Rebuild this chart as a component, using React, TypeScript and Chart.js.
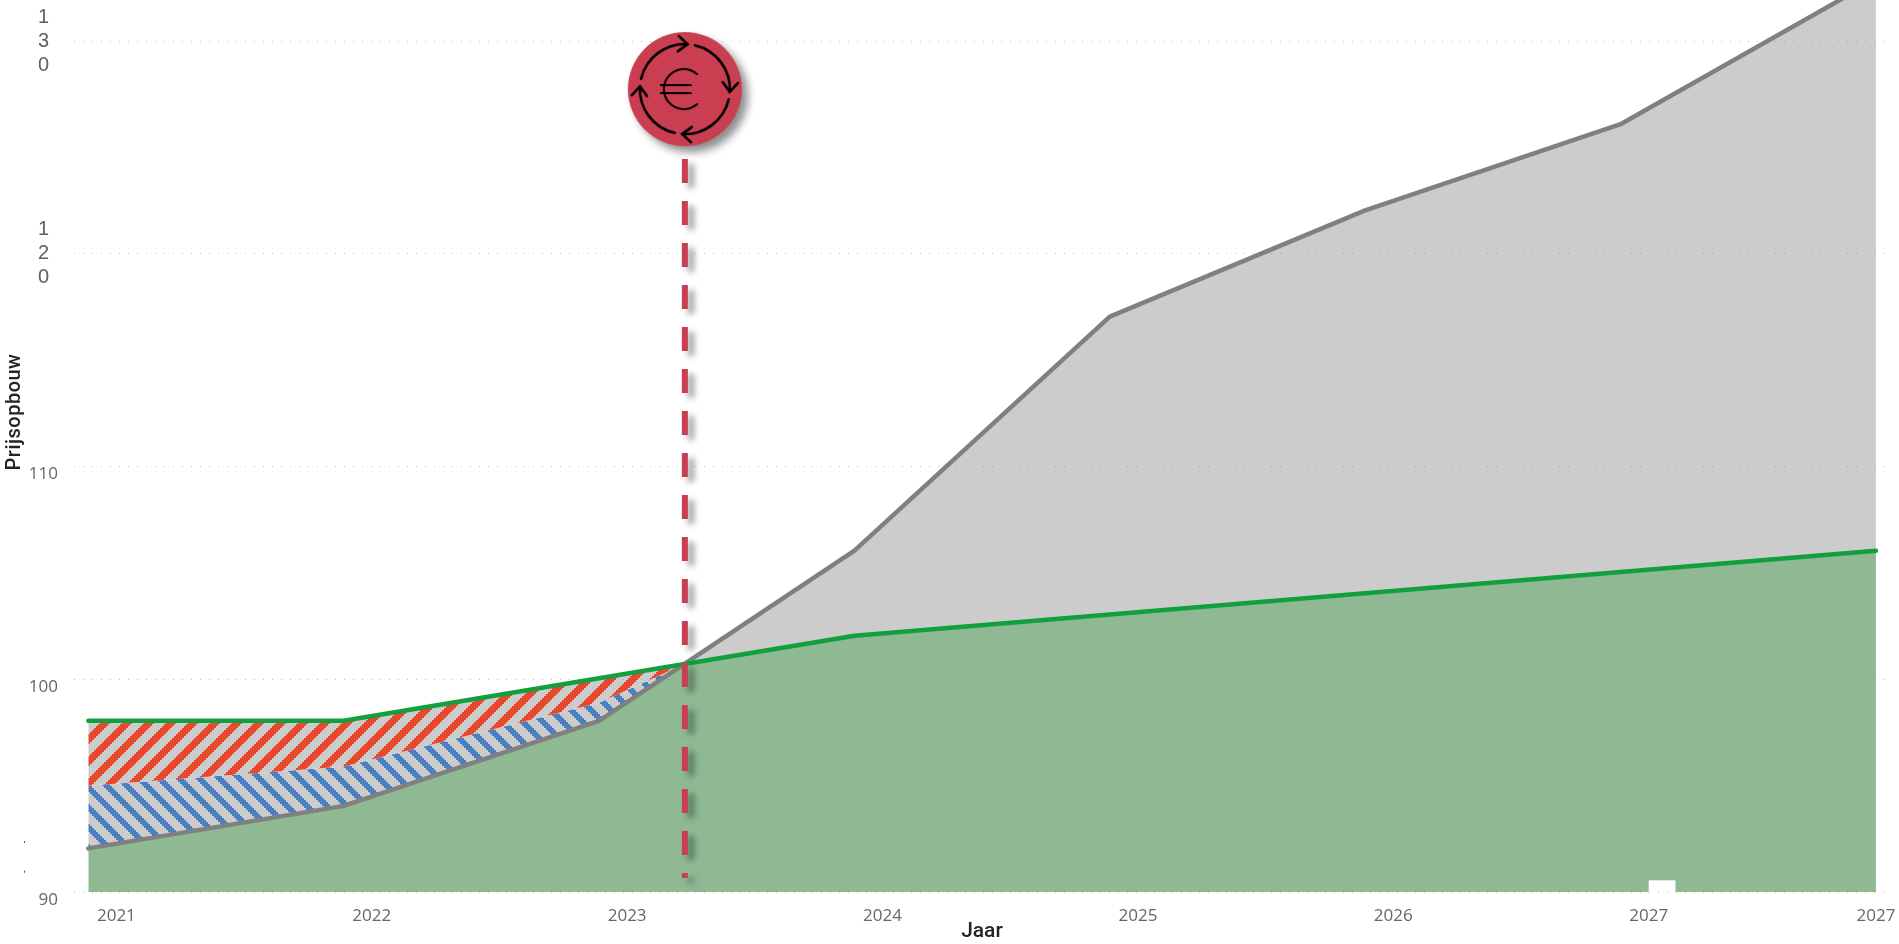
import React, { useEffect, useRef } from "react";
import { Chart, registerables } from "chart.js";

Chart.register(...registerables);

const years = [2020.89, 2021.89, 2022.89, 2023.89, 2024.89, 2025.89, 2026.89, 2027.89];
const greyValues = [92.05, 94.05, 98.05, 106.05, 117.05, 122.05, 126.1, 132.9];
const greenValues = [98.05, 98.05, 100.05, 102.05, 103.05, 104.05, 105.05, 106.05];

const crossYear = 2023.226;
const hatchYears = [2020.89, 2021.89, 2022.89, crossYear];
const hatchTop = [98.05, 98.05, 100.05, 100.72];
const hatchMid = [95.0, 95.9, 98.9, 100.72];
const hatchBottom = [92.05, 94.05, 98.05, 100.72];

const lowerYears = [2020.89, 2021.89, 2022.89, crossYear, 2023.89, 2024.89, 2025.89, 2026.89, 2027.89];
const lowerValues = [92.05, 94.05, 98.05, 100.72, 102.05, 103.05, 104.05, 105.05, 106.05];

const dashValues = [124.46, 90.66];
const badgeValue = 127.75;

const xTicks = [2021, 2022, 2023, 2024, 2025, 2026, 2027, 2027.89];
const yTicks = [90, 100, 110, 120, 130];
const yStackedTicks = [120, 130];
const yTitle = "Prijsopbouw";
const xTitle = "Jaar";

const notch = { x0: 2027.0, x1: 2027.105, y0: 90.55, y1: 90 };
const stray = [92.4, 91.0];

function pts(xs: number[], ys: number[]) {
  return xs.map((x, i) => ({ x, y: ys[i] }));
}

function makeHatch(colour: string, period: number, sign: number, phase: number, stripe: number) {
  const c = document.createElement("canvas");
  c.width = period;
  c.height = period;
  const g = c.getContext("2d")!;
  g.fillStyle = "#CCCCCC";
  g.fillRect(0, 0, period, period);
  g.fillStyle = colour;
  for (let x = 0; x < period; x += 2) {
    for (let y = 0; y < period; y += 2) {
      const v = (((x + sign * y + phase) % period) + period) % period;
      if (v < stripe) g.fillRect(x, y, 2, 2);
    }
  }
  return g.createPattern(c, "repeat")!;
}

function makeBadge() {
  const size = 150;
  const c = document.createElement("canvas");
  c.width = size;
  c.height = size;
  const g = c.getContext("2d")!;
  const m = size / 2;
  g.save();
  g.shadowColor = "rgba(0,0,0,0.45)";
  g.shadowBlur = 9;
  g.shadowOffsetX = 6;
  g.shadowOffsetY = 6;
  g.fillStyle = "#C93E50";
  g.beginPath();
  g.arc(m, m, 57, 0, Math.PI * 2);
  g.fill();
  g.restore();
  g.strokeStyle = "#000";
  g.lineWidth = 2.6;
  g.lineCap = "round";
  const R = 45;
  for (let k = 0; k < 4; k++) {
    const end = -Math.PI / 2 + k * (Math.PI / 2) + 0.06;
    const start = end - Math.PI / 2 + 0.17;
    g.beginPath();
    g.arc(m, m, R, start, end);
    g.stroke();
    const tx = m + R * Math.cos(end);
    const ty = m + R * Math.sin(end);
    const dir = end + Math.PI / 2;
    g.beginPath();
    g.moveTo(tx + 12 * Math.cos(dir + 2.45), ty + 12 * Math.sin(dir + 2.45));
    g.lineTo(tx, ty);
    g.lineTo(tx + 12 * Math.cos(dir - 2.45), ty + 12 * Math.sin(dir - 2.45));
    g.stroke();
  }
  g.lineWidth = 2;
  g.beginPath();
  g.arc(m - 1, m, 20, 0.85, Math.PI * 2 - 0.85);
  g.stroke();
  g.beginPath();
  g.moveTo(m - 24, m - 4);
  g.lineTo(m + 6, m - 4);
  g.moveTo(m - 24, m + 4);
  g.lineTo(m + 6, m + 4);
  g.stroke();
  return c;
}

function noPadding(scale: any) {
  scale.paddingLeft = 0;
  scale.paddingRight = 0;
  scale.paddingTop = 0;
  scale.paddingBottom = 0;
}

const overlayPlugin = {
  id: "overlay",
  beforeDatasetDraw(chart: any, args: any) {
    if (args.index === 1) {
      const ctx = chart.ctx;
      ctx.save();
      ctx.shadowColor = "rgba(0,0,0,0.4)";
      ctx.shadowBlur = 6;
      ctx.shadowOffsetX = 6;
      ctx.shadowOffsetY = 5;
    }
  },
  afterDatasetDraw(chart: any, args: any) {
    if (args.index === 1) chart.ctx.restore();
  },
  afterDatasetsDraw(chart: any) {
    const { ctx, scales } = chart;
    const sx = scales.x;
    const sy = scales.y;
    ctx.save();
    ctx.fillStyle = "#FFFFFF";
    const l = sx.getPixelForValue(notch.x0);
    const r = sx.getPixelForValue(notch.x1);
    const t = sy.getPixelForValue(notch.y0);
    const b = sy.getPixelForValue(notch.y1);
    ctx.fillRect(l, t, r - l, b - t + 1);
    ctx.restore();
  },
  afterDraw(chart: any) {
    const { ctx, scales } = chart;
    const sy = scales.y;
    ctx.save();
    ctx.fillStyle = "#555555";
    stray.forEach((v) => ctx.fillRect(24, sy.getPixelForValue(v), 1, 2));
    ctx.translate(15, 412);
    ctx.rotate(-Math.PI / 2);
    ctx.fillStyle = "#252423";
    ctx.font = "500 20px Roboto";
    ctx.letterSpacing = "0.5px";
    ctx.textAlign = "center";
    ctx.textBaseline = "middle";
    ctx.fillText(yTitle, 0, 0);
    ctx.restore();
  },
};

export default function App() {
  const ref = useRef<HTMLCanvasElement>(null);
  useEffect(() => {
    const red = makeHatch("#E8492E", 22, 1, 15, 10);
    const blue = makeHatch("#4A7FC1", 20, -1, 2, 8);
    const badge = makeBadge();
    const yMin = 90;
    const yMax = 131.94;
    const chart = new Chart(ref.current!, {
      type: "line",
      plugins: [overlayPlugin],
      data: {
        datasets: [
          {
            label: "Prijsmoment",
            data: [{ x: crossYear, y: badgeValue }],
            pointStyle: badge,
            pointRadius: 10,
            showLine: false,
          },
          {
            label: "Prijsherziening",
            data: dashValues.map((y) => ({ x: crossYear, y })),
            borderColor: "#C93E50",
            borderWidth: 6,
            borderDash: [24, 18],
            pointRadius: 0,
          },
          {
            label: "Groen",
            data: pts(years, greenValues),
            borderColor: "#12A03F",
            borderWidth: 4.5,
            borderCapStyle: "round",
            borderJoinStyle: "round",
            pointRadius: 0,
          },
          {
            label: "Grijs",
            data: pts(years, greyValues),
            borderColor: "#808080",
            borderWidth: 4.5,
            borderCapStyle: "round",
            borderJoinStyle: "round",
            pointRadius: 0,
            fill: { target: 2, above: "#CCCCCC", below: "rgba(0,0,0,0)" },
          },
          {
            label: "Arcering boven",
            data: pts(hatchYears, hatchTop),
            borderWidth: 0,
            pointRadius: 0,
            backgroundColor: red,
            fill: { target: 5 },
          },
          {
            label: "Arcering midden",
            data: pts(hatchYears, hatchMid),
            borderWidth: 0,
            pointRadius: 0,
            backgroundColor: blue,
            fill: { target: 6 },
          },
          {
            label: "Arcering onder",
            data: pts(hatchYears, hatchBottom),
            borderWidth: 0,
            pointRadius: 0,
          },
          {
            label: "Onderkant",
            data: pts(lowerYears, lowerValues),
            borderWidth: 0,
            pointRadius: 0,
            backgroundColor: "#8EB993",
            fill: "start",
          },
        ],
      } as any,
      options: {
        responsive: false,
        animation: false,
        layout: { autoPadding: false, padding: { right: 9, top: 0, left: 0, bottom: 0 } },
        plugins: { legend: { display: false }, tooltip: { enabled: false } },
        scales: {
          x: {
            type: "linear",
            min: 2020.834,
            max: 2027.945,
            grid: { display: false },
            border: { display: false },
            afterBuildTicks(scale: any) {
              scale.ticks = xTicks.map((value) => ({ value }));
            },
            afterFit(scale: any) {
              scale.height = 52;
              noPadding(scale);
            },
            ticks: {
              autoSkip: false,
              maxRotation: 0,
              padding: 6,
              color: "#666666",
              font: { family: "'Open Sans'", size: 17 },
              callback: (v: any) => String(Math.floor(Number(v))),
            },
            title: {
              display: true,
              text: xTitle,
              color: "#252423",
              font: { family: "Roboto", size: 21, weight: "500" },
              padding: { top: 3, bottom: 0 },
            },
          },
          y: {
            type: "linear",
            min: yMin,
            max: yMax,
            weight: 0,
            grid: {
              color: "rgba(110,110,110,0.45)",
              lineWidth: 1,
              drawTicks: false,
              z: 1,
            },
            border: { display: false, dash: [1, 8] },
            afterBuildTicks(scale: any) {
              scale.ticks = yTicks.map((value) => ({ value }));
            },
            afterFit(scale: any) {
              scale.width = 74;
              noPadding(scale);
            },
            ticks: {
              autoSkip: false,
              padding: 16,
              labelOffset: 8,
              color: "#666666",
              font: { family: "'Open Sans'", size: 17 },
              callback: (v: any) => (Number(v) >= 120 ? "" : String(v)),
            },
          },
          y2: {
            type: "linear",
            position: "left",
            min: yMin,
            max: yMax,
            weight: -1,
            grid: { display: false },
            border: { display: false },
            afterBuildTicks(scale: any) {
              scale.ticks = yStackedTicks.map((value) => ({ value }));
            },
            afterFit(scale: any) {
              scale.width = 0;
              noPadding(scale);
            },
            ticks: {
              autoSkip: false,
              mirror: true,
              padding: -36,
              color: "#5F5F5F",
              font: { family: "'Liberation Sans'", size: 20, lineHeight: "24px" },
              callback: (v: any) => String(v).split(""),
            },
          },
        },
      } as any,
    });
    return () => chart.destroy();
  }, []);
  return (
    <div style={{ position: "fixed", left: 0, top: 0, width: 1899, height: 944, background: "#fff" }}>
      <canvas ref={ref} width={1899} height={944} style={{ display: "block" }} />
    </div>
  );
}
